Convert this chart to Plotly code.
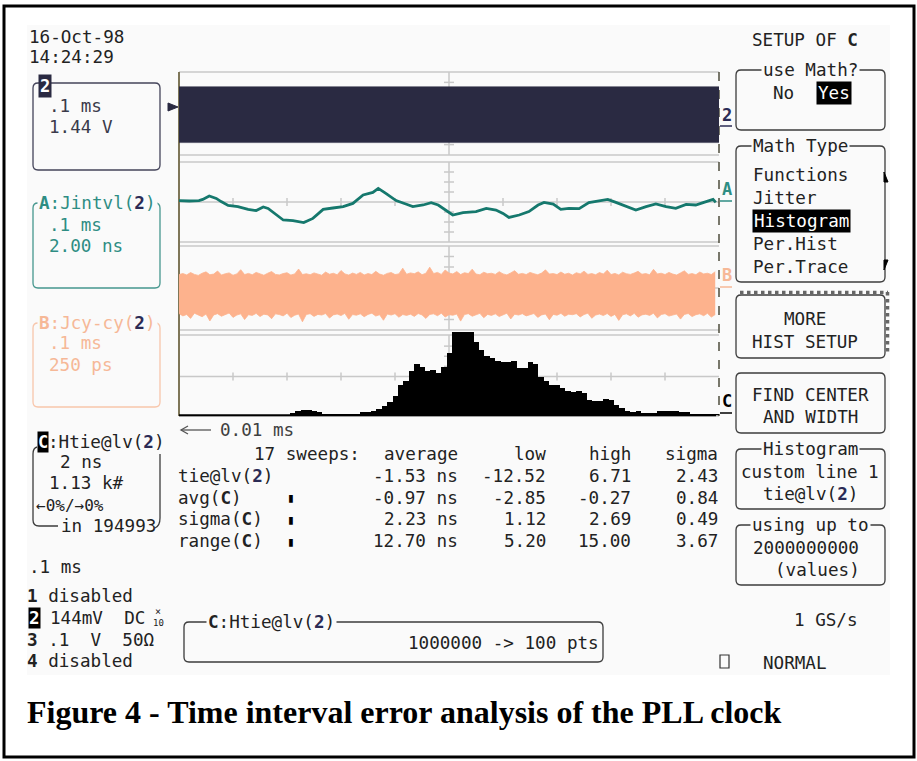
import plotly.graph_objects as go
import numpy as np

W, H = 917, 761

# ---------------- data ----------------
# Channel 2 (clock) envelope, volts (1.44 V/div)
ch2_top = [0.93, 0.93, 0.94, 0.93, 0.93, 0.93, 0.93, 0.94, 0.93, 0.93, 0.93, 0.93, 0.94, 0.93,
           0.93, 0.93, 0.93, 0.93, 0.94, 0.93, 0.93, 0.93, 0.93, 0.94, 0.93, 0.93, 0.93, 0.93,
           0.94, 0.93, 0.93, 0.93, 0.93, 0.93, 0.94, 0.93, 0.93, 0.93, 0.93, 0.93]
ch2_bot = [-1.01, -1.01, -1.01, -1.02, -1.01, -1.01, -1.01, -1.01, -1.02, -1.01, -1.01, -1.01,
           -1.01, -1.01, -1.02, -1.01, -1.01, -1.01, -1.01, -1.01, -1.02, -1.01, -1.01, -1.01,
           -1.01, -1.02, -1.01, -1.01, -1.01, -1.01, -1.01, -1.02, -1.01, -1.01, -1.01, -1.01,
           -1.02, -1.01, -1.01, -1.01]

# A: Jintvl(2) jitter trace, ns (2.00 ns/div) versus time in ms (.1 ms/div)
jit_t_ms = [0.000, 0.019, 0.037, 0.044, 0.056, 0.069, 0.078, 0.091, 0.109, 0.128, 0.143, 0.156,
            0.165, 0.180, 0.193, 0.211, 0.231, 0.248, 0.267, 0.285, 0.304, 0.322, 0.341, 0.359,
            0.369, 0.383, 0.402, 0.420, 0.433, 0.452, 0.467, 0.480, 0.494, 0.507, 0.526, 0.550,
            0.569, 0.587, 0.600, 0.611, 0.630, 0.648, 0.665, 0.676, 0.693, 0.707, 0.722, 0.741,
            0.759, 0.778, 0.794, 0.809, 0.828, 0.846, 0.865, 0.883, 0.902, 0.920, 0.939, 0.957,
            0.972, 0.989, 0.994]
jit_ns = [0.07, 0.05, 0.07, 0.13, 0.30, 0.18, 0.02, -0.17, -0.23, -0.37, -0.43, -0.25, -0.32,
          -0.65, -0.90, -0.93, -1.03, -0.82, -0.37, -0.30, -0.23, -0.07, 0.35, 0.48, 0.68, 0.43,
          0.07, -0.10, -0.23, -0.15, -0.03, -0.15, -0.40, -0.65, -0.53, -0.48, -0.32, -0.40,
          -0.57, -0.77, -0.65, -0.48, -0.15, -0.02, -0.10, -0.37, -0.32, -0.33, -0.03, 0.07,
          0.13, -0.02, -0.23, -0.40, -0.23, -0.10, -0.23, -0.32, -0.12, -0.15, -0.02, 0.13, -0.02]

# B: Jcy-cy(2) cycle-to-cycle jitter envelope, ps (250 ps/div)
b_top_ps = [80, 86, 78, 92, 81, 75, 88, 96, 79, 83, 101, 77, 85, 90, 76, 84, 109, 80, 87, 79,
            93, 82, 76, 88, 98, 81, 78, 86, 91, 77, 84, 113, 80, 85, 79, 90, 83, 76, 95, 82,
            88, 79, 104, 84, 77, 89, 81, 93, 78, 86, 80, 99, 83, 76, 87, 92, 80, 84, 118, 82,
            90, 85, 96, 79, 88, 124, 86, 93, 81, 107, 89, 84, 98, 80, 91, 86, 112, 83, 79, 94,
            85, 88, 81, 97, 84, 78, 90, 103, 82, 87, 80, 93, 85, 79, 89, 108, 83, 86, 80, 95,
            82, 88, 77, 91, 84, 100, 81, 86, 79, 92, 83, 106, 80, 87, 78, 94, 85, 81, 89, 99,
            82, 86, 79, 111, 84, 88, 80, 93, 83, 77, 90, 102, 81, 86, 79, 95, 84, 88, 80, 97]
b_bot_ps = [-152, -166, -158, -181, -150, -162, -171, -155, -196, -160, -153, -168, -157, -149,
            -175, -161, -154, -188, -159, -163, -151, -170, -156, -160, -183, -154, -158, -166,
            -150, -176, -162, -155, -201, -158, -153, -169, -157, -161, -152, -179, -160, -155,
            -164, -151, -186, -158, -162, -154, -171, -157, -150, -167, -159, -192, -155, -161,
            -153, -174, -158, -163, -156, -169, -152, -160, -181, -157, -154, -165, -150, -173,
            -159, -162, -155, -197, -158, -153, -168, -160, -151, -177, -157, -163, -154, -170,
            -159, -150, -184, -156, -161, -153, -166, -158, -152, -175, -160, -155, -189, -157,
            -162, -151, -168, -156, -159, -153, -172, -158, -150, -180, -161, -155, -164, -152,
            -169, -157, -193, -159, -154, -166, -151, -174, -160, -156, -163, -150, -178, -158,
            -153, -167, -161, -155, -185, -157, -152, -170, -159, -154, -165, -151, -173, -158]

# C: Htie@lv(2) histogram, 100 bins, counts (1.13 k#/div)
hist_bins = list(range(100))
hist_counts = [0, 0, 0, 0, 0, 0, 0, 0, 0, 0,
               0, 0, 0, 0, 0, 0, 0, 0, 0, 0,
               56, 122, 159, 159, 112, 84, 50, 50, 50, 50,
               50, 50, 50, 94, 94, 122, 187, 252, 374, 533,
               841, 954, 1234, 1449, 1356, 1253, 1281, 1187, 1346, 1748,
               2338, 2356, 2356, 2356, 2076, 1842, 1655, 1608, 1515, 1496,
               1496, 1515, 1328, 1328, 1487, 1440, 1066, 954, 860, 860,
               767, 692, 655, 692, 626, 439, 393, 393, 458, 421,
               299, 206, 112, 84, 112, 75, 75, 75, 112, 112,
               112, 112, 84, 84, 20, 20, 20, 20, 20, 20]

# statistics table
stat_header = ["17 sweeps:", "average", "low", "high", "sigma"]
stat_rows = ["tie@lv(2)", "avg(C)", "sigma(C)", "range(C)"]
stat_avg = ["-1.53 ns", "-0.97 ns", "2.23 ns", "12.70 ns"]
stat_low = ["-12.52", "-2.85", "1.12", "5.20"]
stat_high = ["6.71", "-0.27", "2.69", "15.00"]
stat_sigma = ["2.43", "0.84", "0.49", "3.67"]

math_types = ["Functions", "Jitter", "Histogram", "Per.Hist", "Per.Trace"]
channels = ["disabled", "144mV  DC", ".1  V  50Ω", "disabled"]

# ---------------- style ----------------
MONO = "DejaVu Sans Mono"
FS = 17.6
INK = "#222222"
NAVY = "#2a2a42"
NAVY_TXT = "#2b2b55"
TEAL = "#15786d"
TEAL_TXT = "#2e8d83"
ORANGE = "#fdb28d"
PEACH_TXT = "#f6b897"
GRID = "#c8c8c8"
SCREEN = "#fafafa"
BOX = "#3c3c3c"


def X(x):
    return x / W


def Y(y):
    return 1 - y / H


ann = []
shapes = []


def T(s, x, y, color=INK, size=FS, anchor="left", bg=None, family=MONO, pad=0):
    d = dict(text=s, x=X(x), y=Y(y), xref="paper", yref="paper", xanchor=anchor,
             yanchor="middle", showarrow=False, borderpad=pad,
             font=dict(family=family, size=size, color=color))
    if bg:
        d["bgcolor"] = bg
    ann.append(d)


def line(x0, y0, x1, y1, color=GRID, width=1.5, dash=None, layer="below"):
    ln = dict(color=color, width=width)
    if dash:
        ln["dash"] = dash
    shapes.append(dict(type="line", xref="paper", yref="paper", x0=X(x0), y0=Y(y0),
                       x1=X(x1), y1=Y(y1), line=ln, layer=layer))


def path(d_pts, color=BOX, width=1.3, fill=None, layer="above"):
    s = dict(type="path", xref="paper", yref="paper", path=d_pts,
             line=dict(color=color, width=width), layer=layer)
    if fill:
        s["fillcolor"] = fill
    shapes.append(s)


def P(x, y):
    return f"{X(x):.5f},{Y(y):.5f}"


def rrect(x0, y0, x1, y1, color=BOX, r=5, width=1.3):
    d = (f"M {P(x0 + r, y0)} L {P(x1 - r, y0)} Q {P(x1, y0)} {P(x1, y0 + r)} "
         f"L {P(x1, y1 - r)} Q {P(x1, y1)} {P(x1 - r, y1)} L {P(x0 + r, y1)} "
         f"Q {P(x0, y1)} {P(x0, y1 - r)} L {P(x0, y0 + r)} Q {P(x0, y0)} {P(x0 + r, y0)} Z")
    path(d, color=color, width=width)


# screen background and outer frame
shapes.append(dict(type="rect", xref="paper", yref="paper", x0=X(27), y0=Y(675), x1=X(890),
                   y1=Y(25), line=dict(width=0), fillcolor=SCREEN, layer="below"))
shapes.append(dict(type="rect", xref="paper", yref="paper", x0=X(4), y0=Y(757), x1=X(914),
                   y1=Y(6), line=dict(width=3, color="black"), layer="above"))

# ---------------- grid ----------------
GL, GR, GC = 179, 719, 449
panels = [(72, 155, 113.5), (162, 242, 202), (246, 330, 288), (335, 416, 376.5)]
for (t, b, c) in panels:
    line(GL, t, GR, t)
    line(GL, b, GR, b)
    line(GL, c, GR, c)
    line(GC, t, GC, b)
    for k in range(1, 10):
        if k != 5:
            xx = GL + 54 * k
            line(xx, c - 4, xx, c + 4)
    h = (b - t) / 2
    for j in (1, 2, 3):
        for sgn in (-1, 1):
            yy = c + sgn * h * j / 4
            line(GC - 5, yy, GC + 5, yy)
line(GL, 72, GL, 416, color="#7e7658", width=2)
line(GR, 72, GR, 416, color="#4e4c3c", width=1.5, dash="dash")
line(GL, 415.3, 716, 415.3, color="black", width=2, layer="above")

# trigger marker and trace labels at right
path(f"M {P(168, 103)} L {P(178, 107)} L {P(168, 111)} Z", color=NAVY, width=1, fill=NAVY)
T("<b>2</b>", 721, 115, color=NAVY_TXT, size=17)
line(720, 126, 732, 126, color=NAVY_TXT, width=1.5, layer="above")
T("<b>A</b>", 721, 189, color=TEAL_TXT, size=17)
line(720, 201, 732, 201, color=TEAL_TXT, width=1.5, layer="above")
T("<b>B</b>", 721, 275, color=PEACH_TXT, size=17)
line(720, 287, 732, 287, color=PEACH_TXT, width=1.5, layer="above")
T("<b>C</b>", 721, 401, color="black", size=17)
line(720, 413, 732, 413, color="black", width=1.5, layer="above")

# ---------------- traces ----------------
fig = go.Figure()
t_ch2 = np.linspace(0, 1, len(ch2_top))
fig.add_trace(go.Scatter(x=t_ch2, y=ch2_bot, xaxis="x", yaxis="y", mode="lines",
                         line=dict(width=0.5, color=NAVY), hoverinfo="skip"))
fig.add_trace(go.Scatter(x=t_ch2, y=ch2_top, xaxis="x", yaxis="y", mode="lines",
                         line=dict(width=0.5, color=NAVY), fill="tonexty", fillcolor=NAVY,
                         hoverinfo="skip"))

fig.add_trace(go.Scatter(x=jit_t_ms, y=jit_ns, xaxis="x", yaxis="y2", mode="lines",
                         line=dict(width=2.8, color=TEAL), hoverinfo="skip"))

t_b_top = np.linspace(0, 0.993, len(b_top_ps))
t_b_bot = np.linspace(0, 0.993, len(b_bot_ps))
fig.add_trace(go.Scatter(x=t_b_bot, y=b_bot_ps, xaxis="x", yaxis="y3", mode="lines",
                         line=dict(width=0.8, color=ORANGE), hoverinfo="skip"))
fig.add_trace(go.Scatter(x=t_b_top, y=b_top_ps, xaxis="x", yaxis="y3", mode="lines",
                         line=dict(width=0.8, color=ORANGE), fill="tonexty", fillcolor=ORANGE,
                         hoverinfo="skip"))

fig.add_trace(go.Bar(x=hist_bins, y=hist_counts, xaxis="x2", yaxis="y4", width=1,
                     marker=dict(color="black", line=dict(width=0)), hoverinfo="skip"))

# ---------------- left info boxes ----------------
rrect(33, 83, 160, 170, color="#44445a")
T("<b>2</b>", 38, 86, color="white", size=17, bg=NAVY, pad=1)
T(".1 ms", 48, 106, color="#3a3a4a")
T("1.44 V", 48, 127, color="#3a3a4a")

rrect(33, 203, 160, 288, color="#46978e")
T(f"<b>A</b>:Jintvl(<b><span style='color:{NAVY_TXT}'>2</span></b>)", 37, 203,
  color=TEAL_TXT, bg=SCREEN, pad=1)
T(".1 ms", 48, 225, color=TEAL_TXT)
T("2.00 ns", 48, 246, color=TEAL_TXT)

rrect(33, 323, 160, 407, color="#f8c6ab")
T(f"<b>B</b>:Jcy-cy(<b><span style='color:{NAVY_TXT}'>2</span></b>)", 37, 323,
  color=PEACH_TXT, bg=SCREEN, pad=1)
T(".1 ms", 48, 343, color=PEACH_TXT)
T("250 ps", 48, 365, color=PEACH_TXT)

# C bracket
path(f"M {P(37, 447)} Q {P(33, 448)} {P(33, 454)} L {P(33, 520)} Q {P(33, 526)} {P(39, 526)} "
     f"L {P(58, 526)}", color=BOX)
path(f"M {P(160, 454)} L {P(160, 518)} Q {P(160, 526)} {P(155, 528)}", color=BOX)
T("<b>C</b>", 37, 442, color="white", size=17, bg="black", pad=0)
T(f":Htie@lv(<b><span style='color:{NAVY_TXT}'>2</span></b>)", 47, 442)
T("2 ns", 59, 462)
T("1.13 k#", 48, 483)
T("←0%/→0%", 35, 505, size=16)
T("in 194993", 60, 526)

T(".1 ms", 28, 567)
ch_y = [596, 618, 640, 661]
for i, (txt, yy) in enumerate(zip(channels, ch_y)):
    if i == 1:
        T(f"<b>{i + 1}</b>", 28, yy, color="white", bg="black", pad=0)
        T(txt, 49, yy)
    else:
        T(f"<b>{i + 1}</b> {txt}", 26, yy)
T("×", 158, 611, size=10, anchor="center")
T("10", 158, 623, size=9, anchor="center")

# ---------------- statistics ----------------
line(181, 430, 211, 430, color="#555555", width=1.3, layer="above")
path(f"M {P(188, 426)} L {P(181, 430)} L {P(188, 434)}", color="#555555", width=1.3)
T("0.01 ms", 219, 430, color="#404040")

col_right = [361, 459, 547, 632, 719]
for txt, xr in zip(stat_header, col_right):
    T(txt, xr, 454, anchor="right")
row_y = [476, 497.5, 519, 541]
for i, yy in enumerate(row_y):
    lab = stat_rows[i].replace("(2)", f"(<b><span style='color:{NAVY_TXT}'>2</span></b>)")
    lab = lab.replace("(C)", "(<b>C</b>)")
    T(lab, 177, yy)
    if i > 0:
        T("▮", 291, yy, size=13, anchor="center", color="black")
    T(stat_avg[i], col_right[1], yy, anchor="right")
    T(stat_low[i], col_right[2], yy, anchor="right")
    T(stat_high[i], col_right[3], yy, anchor="right")
    T(stat_sigma[i], col_right[4], yy, anchor="right")

# bottom centre box
rrect(184, 622, 603, 662, color=BOX)
T(f"<b>C</b>:Htie@lv(<b><span style='color:{NAVY_TXT}'>2</span></b>)", 206, 622,
  bg=SCREEN, pad=1)
T("1000000 -&gt; 100 pts", 600, 643, anchor="right")

# ---------------- right menu ----------------
T("SETUP OF <b>C</b>", 859, 40, anchor="right")

rrect(736, 70, 885, 130)
T("use Math?", 810, 70, anchor="center", bg=SCREEN, pad=1)
T("No", 772, 93)
T("Yes", 816, 93, color="white", bg="black", pad=1)

rrect(736, 146, 885, 282)
T("Math Type", 751, 146, bg=SCREEN, pad=1)
mt_y = [175, 198, 221, 244, 267]
for txt, yy in zip(math_types, mt_y):
    if txt == "Histogram":
        T(txt, 752, yy, color="white", bg="black", pad=1)
    else:
        T(txt, 752, yy)
path(f"M {P(884, 172)} L {P(888, 182)} L {P(884, 182)} Z", color="black", width=1, fill="black")
path(f"M {P(884, 260)} L {P(888, 260)} L {P(884, 270)} Z", color="black", width=1, fill="black")

rrect(736, 295, 885, 358)
line(740, 292.5, 888, 292.5, color="#666666", width=3.5, dash="dot", layer="above")
line(887.5, 292, 887.5, 355, color="#666666", width=3.5, dash="dot", layer="above")
T("MORE", 805, 319, anchor="center")
T("HIST SETUP", 805, 342, anchor="center")

rrect(736, 373, 885, 433)
T("FIND CENTER", 810, 395, anchor="center")
T("AND WIDTH", 810, 417, anchor="center")

rrect(736, 449, 885, 509)
T("Histogram", 810, 449, anchor="center", bg=SCREEN, pad=1)
T("custom line 1", 810, 472, anchor="center")
T(f"tie@lv(<b><span style='color:{NAVY_TXT}'>2</span></b>)", 810, 494, anchor="center")

rrect(736, 525, 885, 585)
T("using up to", 810, 525, anchor="center", bg=SCREEN, pad=1)
T("2000000000", 752, 548)
T("(values)", 774, 570)

T("1 GS/s", 859, 620, anchor="right")
shapes.append(dict(type="rect", xref="paper", yref="paper", x0=X(720), y0=Y(668), x1=X(729),
                   y1=Y(655), line=dict(width=1.2, color="#333333"), layer="above"))
T("NORMAL", 762, 663)

T("16-Oct-98", 28, 37)
T("14:24:29", 28, 57)

# caption
T("<b>Figure 4 - Time interval error analysis of the PLL clock</b>", 26, 712,
  color="black", size=32, family="Liberation Serif")

# ---------------- layout ----------------
dom_x = [X(GL), X(GR)]
fig.update_layout(
    width=W, height=H, autosize=False,
    margin=dict(l=0, r=0, t=0, b=0, pad=0),
    paper_bgcolor="white", plot_bgcolor="rgba(0,0,0,0)",
    showlegend=False, hovermode=False, bargap=0,
    xaxis=dict(domain=dom_x, range=[0, 1], visible=False, anchor="y", fixedrange=True),
    xaxis2=dict(domain=dom_x, range=[-1.05, 98.95], visible=False, anchor="y4", fixedrange=True),
    yaxis=dict(domain=[Y(155), Y(72)], range=[-1.44, 1.44], visible=False, fixedrange=True),
    yaxis2=dict(domain=[Y(242), Y(162)], range=[-2, 2], visible=False, fixedrange=True),
    yaxis3=dict(domain=[Y(330), Y(246)], range=[-250, 250], visible=False, fixedrange=True),
    yaxis4=dict(domain=[Y(415.3), Y(330)], range=[0, 2400], visible=False, fixedrange=True),
    annotations=ann, shapes=shapes,
)

fig.write_html("out.html", config={"displayModeBar": False},
               post_script="document.body.style.margin='0';document.body.style.overflow='hidden';")
